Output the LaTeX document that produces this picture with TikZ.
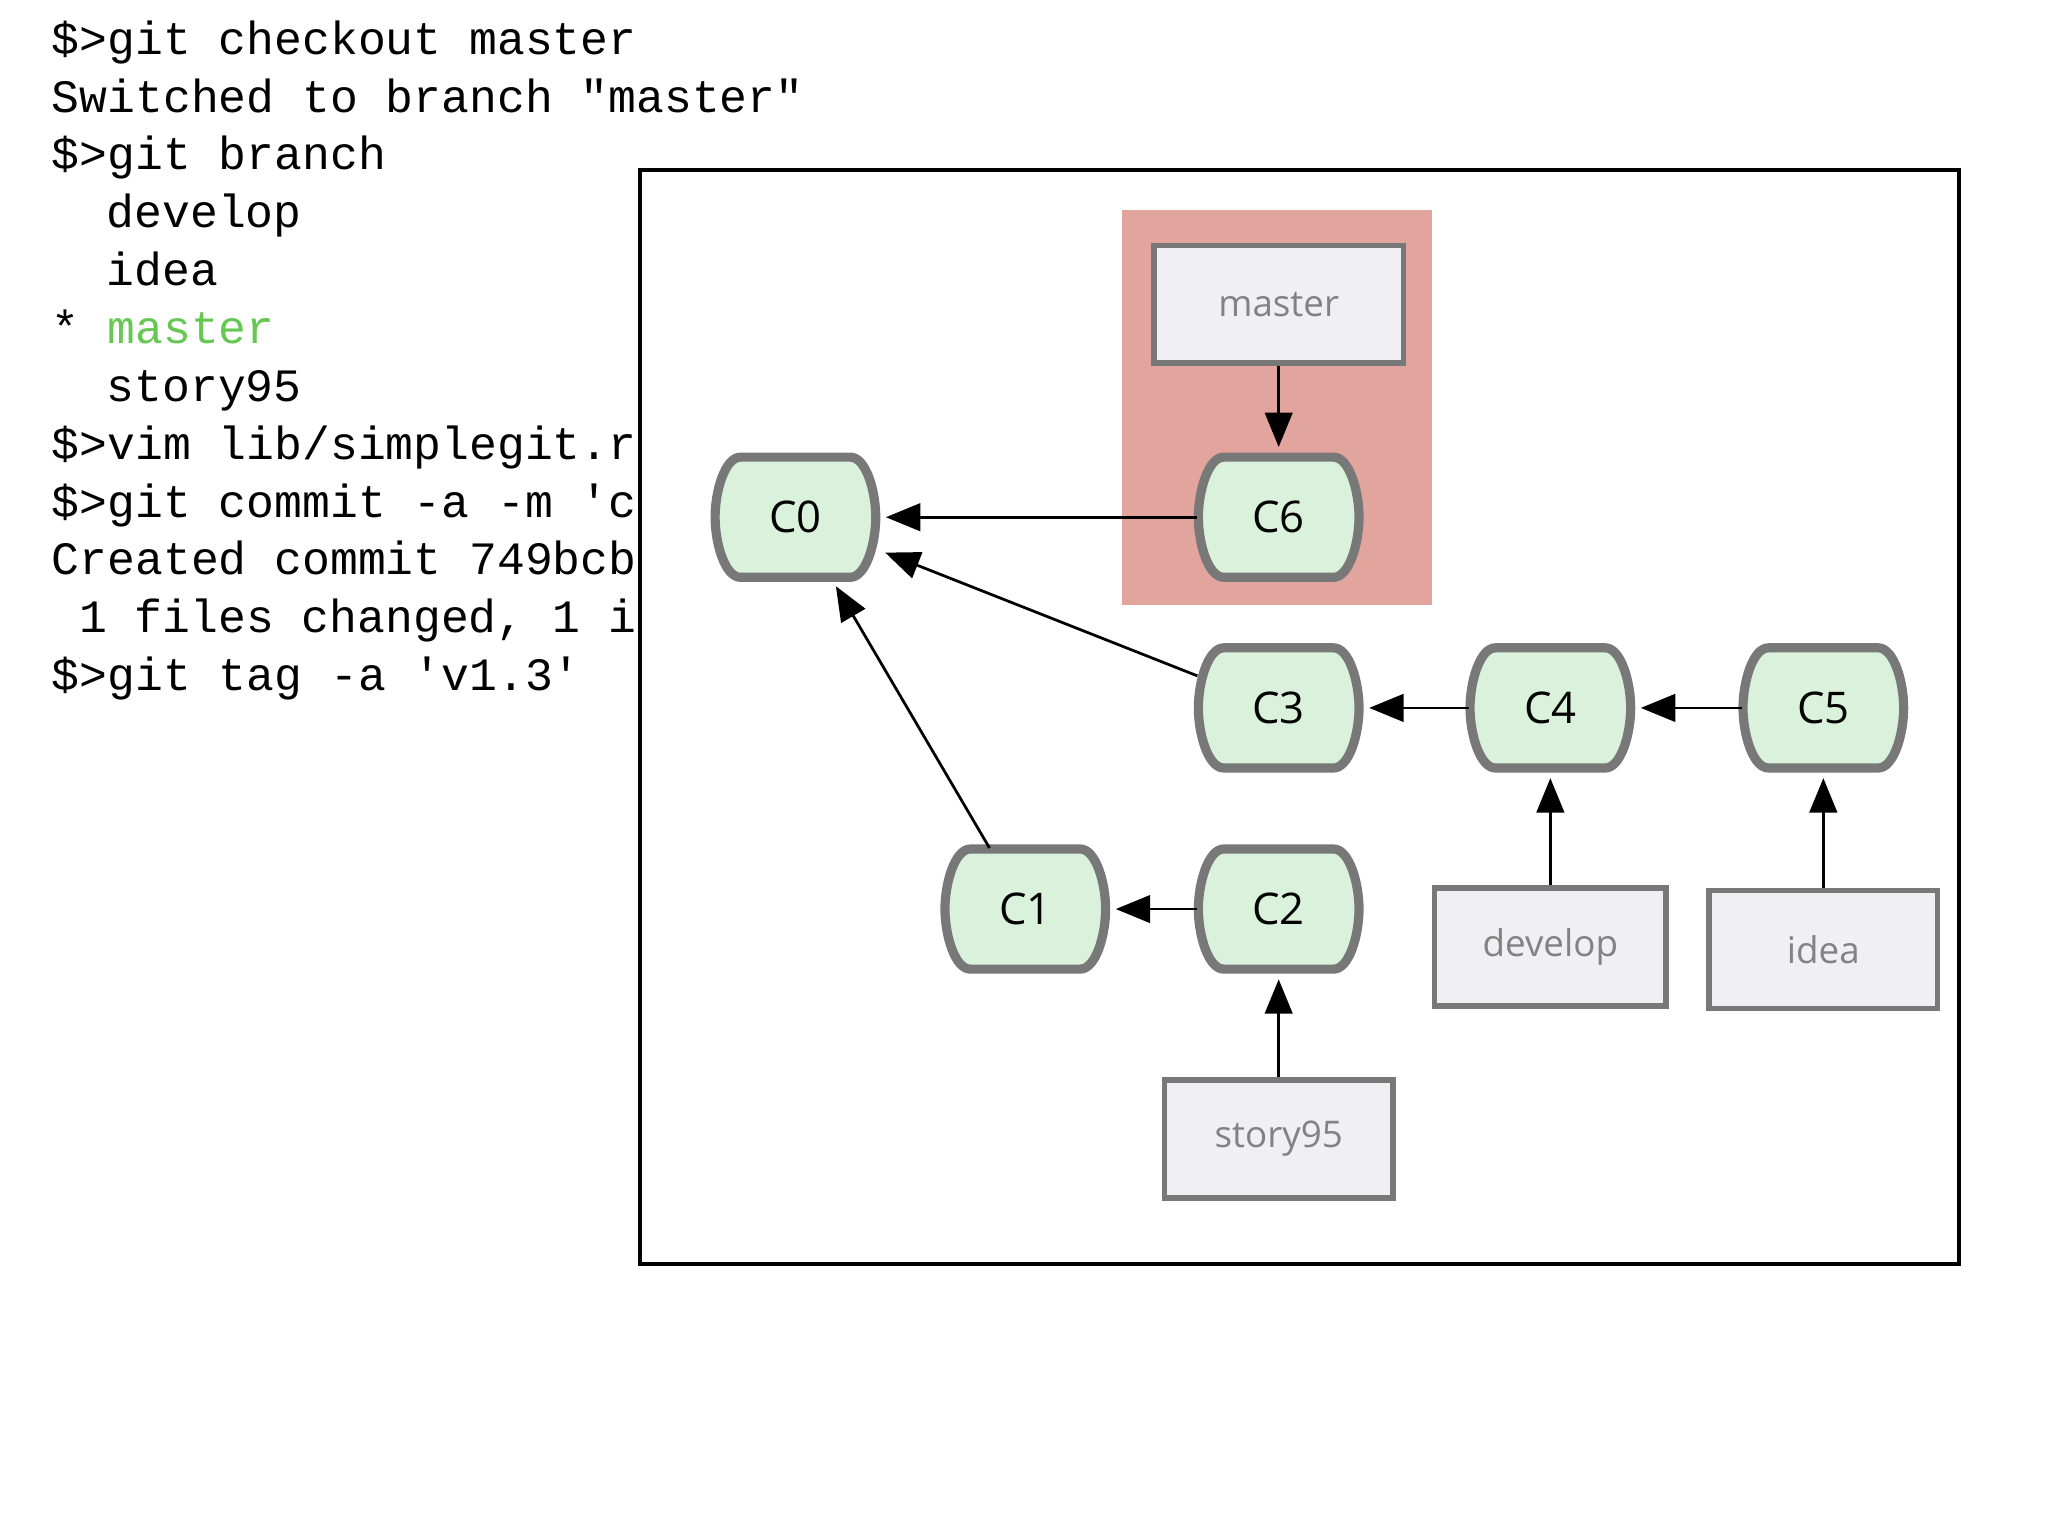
\documentclass[tikz,border=0pt]{standalone}
\usepackage{fontspec}
\setsansfont{Open Sans}
\newfontfamily\termfont{Liberation Mono}
\usetikzlibrary{arrows.meta}

\definecolor{commitfill}{RGB}{218,242,220}
\definecolor{edgegray}{RGB}{120,120,120}
\definecolor{branchfill}{RGB}{240,239,243}
\definecolor{branchtext}{RGB}{130,130,130}
\definecolor{headpink}{RGB}{225,165,157}
\definecolor{termgreen}{RGB}{102,200,82}

\tikzset{
  commit/.style = {rectangle, inner sep = 0pt,
    minimum width = 1.23cm, minimum height = .92cm,
    font = \sffamily\fontsize{9.5}{9.5}\selectfont},
  commitline/.style = {draw = edgegray, line width = 2pt, fill = commitfill},
  branchbox/.style = {rectangle, draw = edgegray, line width = 1.2pt,
    fill = branchfill, minimum height = .9cm, text = branchtext,
    font = \sffamily\fontsize{8}{8}\selectfont},
  term/.style = {anchor = base west, inner sep = 0pt,
    font = \termfont\fontsize{10.1}{12.6}\selectfont},
  parent/.style = {-{Triangle[length = 7.5pt, width = 6pt]},
    line width = .6pt, shorten > = 2pt}
}

\begin{document}
\begin{tikzpicture}[x = .01cm, y = -.01cm]
\fill [white] (0, 0) rectangle (1568, 1176);
\useasboundingbox (0, 0) rectangle (1568, 1176);

% terminal session
\node [term] (t1)  at (39,  41.5) {\$>git checkout master};
\node [term] (t2)  at (39,  85.8) {Switched to branch "master"};
\node [term] (t3)  at (39, 130.1) {\$>git branch};
\node [term] (t4)  at (81, 174.4) {develop};
\node [term] (t5)  at (81, 218.7) {idea};
\node [term] (t6)  at (39, 263.0) {* \textcolor{termgreen}{master}};
\node [term] (t7)  at (81, 307.3) {story95};
\node [term] (t8)  at (39, 351.6) {\$>vim lib/simplegit.r};
\node [term] (t9)  at (39, 395.9) {\$>git commit -a -m 'c};
\node [term] (t10) at (39, 440.2) {Created commit 749bcb};
\node [term] (t11) at (60, 484.5) {1 files changed, 1 i};
\node [term] (t12) at (39, 528.8) {\$>git tag -a 'v1.3'};

% history window
\draw [line width = .8pt, fill = white] (490, 130) rectangle (1500, 968);
\fill [headpink] (859, 161) rectangle (1096, 463);

\foreach \n/\x/\y/\t in {c0/609/396/C0, c6/979/396/C6, c3/979/542/C3,
  c4/1187/542/C4, c5/1396/542/C5, c1/785/696/C1, c2/979/696/C2}
{
  \draw [commitline, shift = {(\x, \y)}]
    (-42, -46) -- (42, -46) .. controls (54, -46) and (61.5, -20) .. (61.5, 0)
    .. controls (61.5, 20) and (54, 46) .. (42, 46) -- (-42, 46)
    .. controls (-54, 46) and (-61.5, 20) .. (-61.5, 0)
    .. controls (-61.5, -20) and (-54, -46) .. cycle;
  \node [commit] (\n) at (\x, \y) {\t};
}

\node [branchbox, minimum width = 1.91cm] (master)  at ( 979, 233) {master};
\node [branchbox, minimum width = 1.77cm] (develop) at (1187, 725) {develop};
\node [branchbox, minimum width = 1.75cm] (idea)    at (1396, 727) {idea};
\node [branchbox, minimum width = 1.75cm] (story95) at ( 979, 872) {story95};

\draw [parent] (c6) -- (c0);
\draw [parent] (c3) -- (c0);
\draw [parent] (c1) -- (c0);
\draw [parent] (c4) -- (c3);
\draw [parent] (c5) -- (c4);
\draw [parent] (c2) -- (c1);

\draw [parent] (master) -- (c6);
\draw [parent] (develop) -- (c4);
\draw [parent] (idea) -- (c5);
\draw [parent] (story95) -- (c2);
\end{tikzpicture}
\end{document}
